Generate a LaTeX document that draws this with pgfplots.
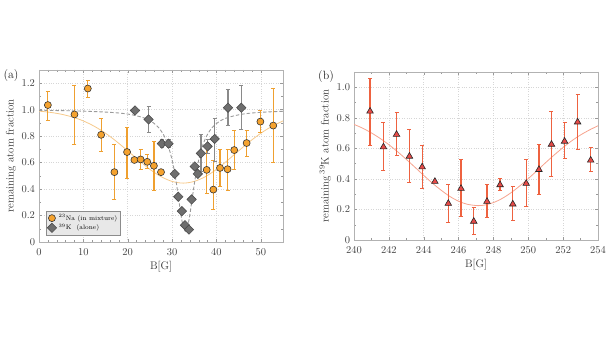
\documentclass[border=0pt]{standalone}
\usepackage{pgfplots}
\usepackage{pgfplotstable}
\pgfplotsset{compat=1.18}
\definecolor{naorange}{HTML}{F5A22E}
\definecolor{nabar}{HTML}{EFA030}
\definecolor{nafit}{HTML}{F6C98A}
\definecolor{kgray}{HTML}{6E6E6E}
\definecolor{kbar}{HTML}{8A8A8A}
\definecolor{kfit}{HTML}{9A9A9A}
\definecolor{kred}{HTML}{E84A48}
\definecolor{kredbar}{HTML}{EE6240}
\definecolor{kredfit}{HTML}{F6A38E}

\pgfplotstableread{
x y ep em
2.0 1.035 0.105 0.115
8.0 0.964 0.216 0.229
11.0 1.16 0.06 0.065
14.0 0.81 0.123 0.125
17.0 0.528 0.21 0.206
19.85 0.68 0.188 0.20
21.5 0.62 0.0 0.0
22.9 0.624 0.074 0.079
24.4 0.606 0.054 0.046
25.9 0.576 0.184 0.186
27.5 0.528 0.0 0.0
37.8 0.545 0.165 0.175
39.3 0.396 0.22 0.146
40.8 0.56 0.14 0.14
42.5 0.55 0.15 0.16
44.0 0.695 0.145 0.145
46.8 0.748 0.097 0.098
49.9 0.91 0.087 0.08
52.8 0.88 0.28 0.28
}\na

\pgfplotstableread{
x y ep em
21.65 0.994 0.0 0.0
24.7 0.926 0.10 0.096
27.7 0.743 0.03 0.03
29.2 0.743 0.03 0.03
30.6 0.515 0.0 0.0
31.4 0.342 0.0 0.0
32.2 0.233 0.0 0.0
32.9 0.127 0.0 0.0
33.8 0.094 0.0 0.0
34.4 0.322 0.0 0.0
35.1 0.571 0.0 0.0
35.8 0.515 0.0 0.0
36.5 0.67 0.14 0.14
38.0 0.723 0.05 0.05
39.6 0.779 0.155 0.17
42.6 1.015 0.135 0.135
45.6 1.015 0.165 0.165
}\kk

\pgfplotstableread{
x y ep em
240.92 0.843 0.217 0.223
241.69 0.609 0.158 0.152
242.44 0.691 0.142 0.137
243.18 0.548 0.174 0.172
243.91 0.478 0.139 0.139
244.64 0.383 0.0 0.0
245.41 0.239 0.126 0.126
246.14 0.337 0.191 0.185
246.87 0.122 0.089 0.083
247.63 0.252 0.111 0.106
248.38 0.361 0.041 0.035
249.11 0.235 0.113 0.105
249.88 0.37 0.16 0.153
250.61 0.461 0.163 0.161
251.33 0.626 0.217 0.211
252.08 0.646 0.121 0.113
252.83 0.772 0.182 0.179
253.58 0.522 0.082 0.076
}\kb

\pgfplotsset{
  myax/.style={
    scale only axis,
    axis line style={draw=black!30},
    tick style={draw=black!40, line width=0.4pt},
    major tick length=3bp, minor tick length=1.8bp,
    tick align=inside,
    grid=major,
    major grid style={dotted, draw=black!16, line width=0.5pt},
    ticklabel style={font=\fontsize{10.5}{12}\selectfont, text=black!75},
    xticklabel style={yshift=-3bp},
    yticklabel style={xshift=-0.5bp},
    label style={font=\fontsize{11}{13}\selectfont, text=black!80},
    /pgf/number format/assume math mode=true,
    clip=true,
  }
}

\begin{document}
\begin{tikzpicture}[x=1bp,y=1bp]
\useasboundingbox (0,0) rectangle (610,343);

\begin{axis}[myax,
  at={(39bp,101bp)}, anchor=south west,
  width=244bp, height=172bp,
  xmin=0, xmax=55, ymin=0, ymax=1.3,
  xtick={0,10,20,30,40,50},
  ytick={0,0.2,0.4,0.6,0.8,1.0,1.2},
  yticklabels={0,0.2,0.4,0.6,0.8,1.0,1.2},
  minor x tick num=4, minor y tick num=1,
  xlabel={B[G]}, ylabel={remaining atom fraction},
  xlabel style={yshift=1.5bp},
  ylabel style={yshift=-1bp},
  legend style={at={(0.027,0.04)}, anchor=south west, fill=black!9, draw=black!45,
    font=\fontsize{6.5}{7.5}\selectfont, inner sep=1.5pt, row sep=-1.5pt},
  legend cell align=left,
]
\addplot[forget plot, smooth, nafit, line width=0.8pt] coordinates {
(0,0.989) (2.5,0.980) (5,0.966) (7.5,0.945) (10,0.915) (12.5,0.874) (15,0.822)
(17.5,0.759) (20,0.689) (22.5,0.617) (25,0.549) (27.5,0.494) (30,0.458) (32.5,0.445)
(35,0.458) (37.5,0.494) (40,0.549) (42.5,0.617) (45,0.689) (47.5,0.759) (50,0.822)
(52.5,0.874) (55,0.915)};
\addplot[forget plot, smooth, kfit, line width=0.9pt, dash pattern=on 3.5pt off 2pt] coordinates {
(0,0.995) (5,0.993) (10,0.989) (15,0.982) (18,0.975) (20,0.967) (22,0.954) (24,0.934)
(25,0.918) (26,0.895) (27,0.863) (28,0.815) (29,0.740) (30,0.621) (30.5,0.538) (31,0.437)
(31.5,0.322) (32,0.206) (32.5,0.115) (33,0.080) (33.5,0.115) (34,0.206) (34.5,0.322)
(35,0.437) (35.5,0.538) (36,0.621) (37,0.740) (38,0.815) (39,0.863) (40,0.895) (41,0.918)
(42,0.934) (44,0.954) (46,0.967) (48,0.975) (51,0.982) (55,0.988)};

\addplot[only marks, mark=*, mark size=3.5bp,
  mark options={fill=naorange, draw=black!80, line width=0.6pt},
  error bars/.cd, y dir=both, y explicit,
  error bar style={nabar, line width=1.2pt},
  error mark options={rotate=90, mark size=2bp, nabar, line width=0.8pt}]
  table[x=x, y=y, y error plus=ep, y error minus=em] {\na};
\addlegendentry{$^{23}$Na (in mixture)}

\addplot[only marks, mark=square*, mark size=3.3bp,
  mark options={rotate=45, fill=kgray, draw=black!70, line width=0.6pt},
  error bars/.cd, y dir=both, y explicit,
  error bar style={kbar, line width=1.2pt},
  error mark options={rotate=90, mark size=2bp, kbar, line width=0.8pt}]
  table[x=x, y=y, y error plus=ep, y error minus=em] {\kk};
\addlegendentry{$^{39}$K~~(alone)}
\end{axis}

\begin{axis}[myax,
  at={(354bp,103bp)}, anchor=south west,
  width=244bp, height=168bp,
  xmin=240, xmax=254, ymin=0, ymax=1.1,
  xtick={240,242,244,246,248,250,252,254},
  ytick={0,0.2,0.4,0.6,0.8,1.0},
  yticklabels={0,0.2,0.4,0.6,0.8,1.0},
  minor x tick num=1, minor y tick num=1,
  xlabel={B[G]}, ylabel={remaining$\,^{39}$K atom fraction},
  xlabel style={yshift=1.5bp},
  ylabel style={yshift=-1bp},
]
\addplot[smooth, kredfit, line width=0.8pt] coordinates {
(240,0.757) (240.5,0.732) (241,0.701) (241.5,0.665) (242,0.624) (242.5,0.578)
(243,0.528) (243.5,0.476) (244,0.423) (244.5,0.372) (245,0.326) (245.5,0.285)
(246,0.254) (246.5,0.234) (247.1,0.225) (247.5,0.229) (248,0.245) (248.5,0.272)
(249,0.309) (249.5,0.353) (250,0.402) (250.5,0.454) (251,0.507) (251.5,0.558)
(252,0.606) (252.5,0.650) (253,0.688) (253.5,0.720) (254,0.748)};

\addplot[only marks, mark=triangle*, mark size=3.8bp,
  mark options={fill=kred, draw=black!85, line width=0.6pt},
  error bars/.cd, y dir=both, y explicit,
  error bar style={kredbar, line width=1.2pt},
  error mark options={rotate=90, mark size=2bp, kredbar, line width=0.8pt}]
  table[x=x, y=y, y error plus=ep, y error minus=em] {\kb};
\end{axis}

\node[font=\fontsize{12}{14}\selectfont, text=black!85] at (11,267) {(a)};
\node[font=\fontsize{12}{14}\selectfont, text=black!85] at (326,266) {(b)};
\end{tikzpicture}
\end{document}
